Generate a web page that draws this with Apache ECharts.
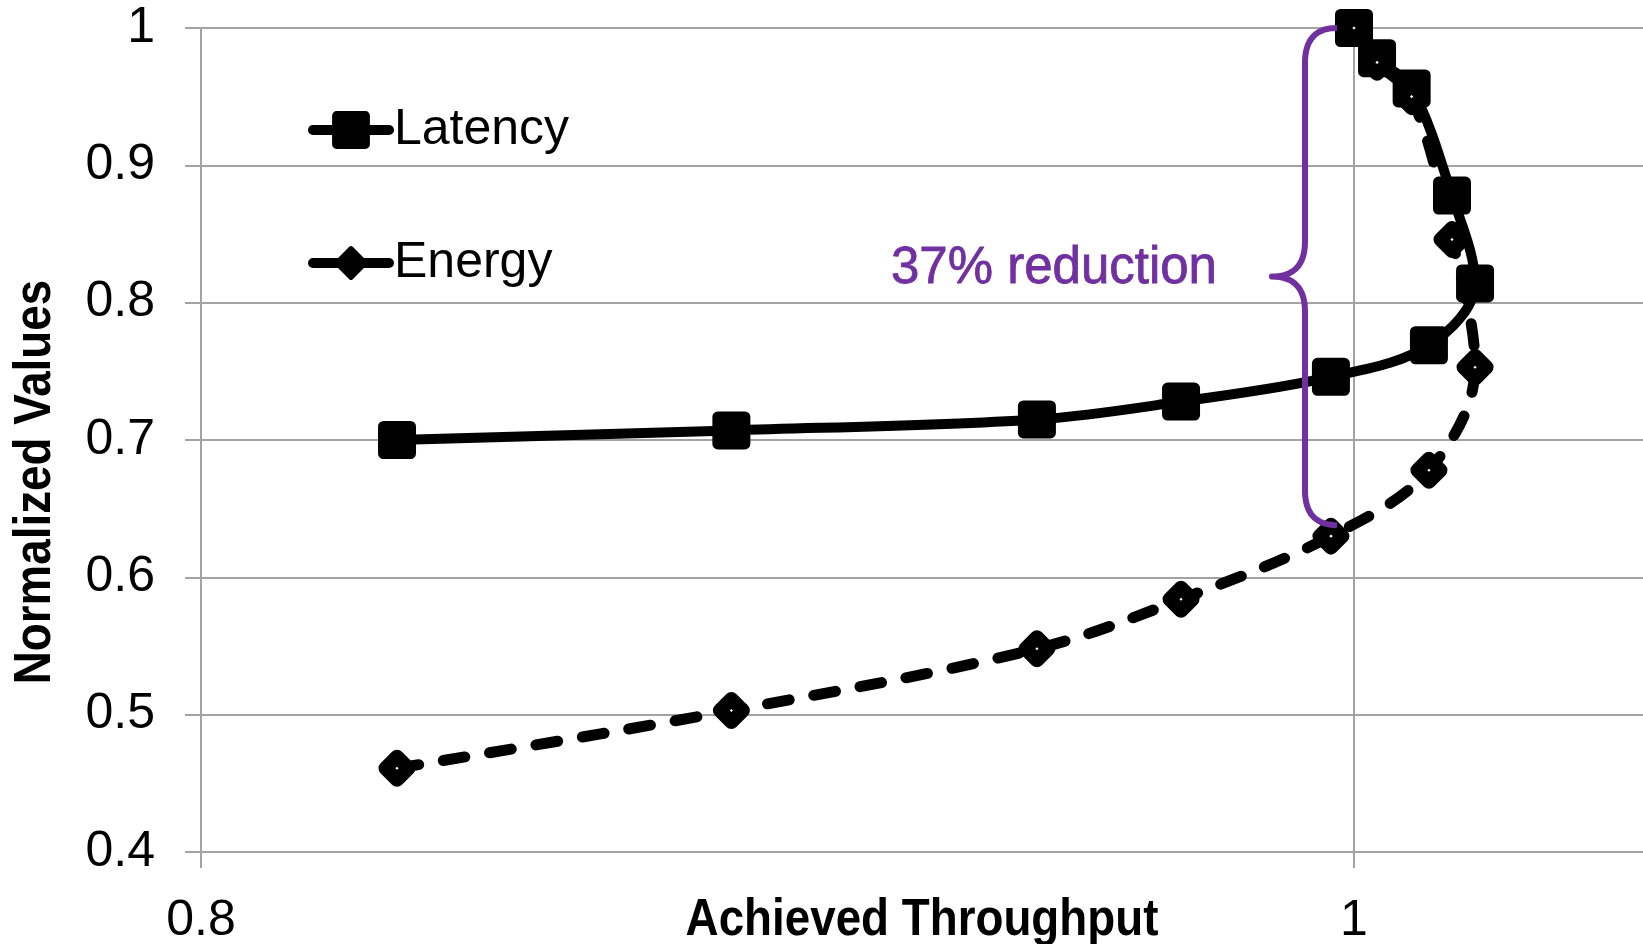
<!DOCTYPE html>
<html>
<head>
<meta charset="utf-8">
<title>Latency and Energy vs Achieved Throughput</title>
<script src="https://cdn.jsdelivr.net/npm/echarts@6/dist/echarts.min.js"></script>
<style>
  html, body { margin: 0; padding: 0; background: #ffffff; }
  #chart { width: 1643px; height: 944px; }
</style>
</head>
<body>
<div id="chart"></div>
<script>
// Operating points, ordered along the curve (shared throughput for both series)
const throughput = [0.834, 0.892, 0.945, 0.970, 0.996, 1.013, 1.021, 1.017, 1.010, 1.004, 1.000];
const latency    = [0.700, 0.707, 0.715, 0.728, 0.746, 0.769, 0.814, 0.878, 0.956, 0.978, 1.000];
const energy     = [0.461, 0.503, 0.548, 0.584, 0.630, 0.678, 0.753, 0.846, 0.950, 0.975, 1.000];

const seriesNames = ['Latency', 'Energy'];
const axisTitles = { x: 'Achieved Throughput', y: 'Normalized Values' };
const xRange = { min: 0.8, max: 1.051, interval: 0.2 };
const yRange = { min: 0.4, max: 1.0, interval: 0.1 };

// Annotation: energy at the knee point vs. peak-throughput point
const baseIdx = 10;   // throughput = 1 reference point
const kneeIdx = 4;    // energy-saving operating point
const reductionLabel = Math.round((latency[baseIdx] - energy[kneeIdx]) * 100) + '% reduction';

const GRID = '#a3a3a3';
const BODY_FONT = "'Liberation Sans', Arial, sans-serif";
const PURPLE = '#7030a0';

function pairs(xs, ys) { return xs.map((x, i) => [x, ys[i]]); }

const chart = echarts.init(document.getElementById('chart'), null, { renderer: 'canvas' });

const axisCommon = {
  type: 'value',
  axisLine: { show: true, onZero: false, lineStyle: { color: GRID, width: 2 } },
  axisTick: { show: true, inside: false, length: 16, lineStyle: { color: GRID, width: 2 } },
  splitLine: { show: true, lineStyle: { color: GRID, width: 2 } }
};

const option = {
  animation: false,
  backgroundColor: '#ffffff',
  grid: { left: 201, right: -5, top: 28, bottom: 92, containLabel: false, outerBoundsMode: 'none' },
  xAxis: Object.assign({}, axisCommon, {
    min: xRange.min, max: xRange.max, interval: xRange.interval,
    axisLabel: { fontFamily: BODY_FONT, fontSize: 50, color: '#000', margin: 44, showMaxLabel: false }
  }),
  yAxis: Object.assign({}, axisCommon, {
    min: yRange.min, max: yRange.max, interval: yRange.interval,
    axisLabel: { fontFamily: BODY_FONT, fontSize: 50, color: '#000', margin: 46 }
  }),
  legend: {
    orient: 'vertical',
    left: 308, top: 104, padding: 0,
    itemWidth: 76, itemHeight: 36, itemGap: 81,
    selectedMode: false,
    textStyle: { fontFamily: BODY_FONT, fontSize: 50, color: '#000', lineHeight: 52 },
    data: [
      { name: seriesNames[0], lineStyle: { type: 'solid', width: 10, color: '#000', cap: 'round' },
        itemStyle: { color: '#000', borderColor: '#000', borderWidth: 9, borderJoin: 'round' } },
      { name: seriesNames[1], lineStyle: { type: 'solid', width: 10, color: '#000', cap: 'round' },
        itemStyle: { color: '#000', borderColor: '#000', borderWidth: 5, borderJoin: 'round' } }
    ]
  },
  series: [
    {
      name: seriesNames[0], type: 'line', data: pairs(throughput, latency),
      smooth: 0.35, symbol: 'rect', symbolSize: 27, z: 2,
      lineStyle: { color: '#000', width: 10 },
      itemStyle: { color: '#000', borderColor: '#000', borderWidth: 11, borderJoin: 'round' },
      emphasis: { disabled: true }
    },
    {
      name: seriesNames[1], type: 'line', data: pairs(throughput, energy),
      smooth: 0.35, symbol: 'diamond', symbolSize: 23, z: 3,
      lineStyle: { color: '#000', width: 11, type: [22, 25], cap: 'round' },
      itemStyle: { color: '#fff', borderColor: '#000', borderWidth: 14, borderJoin: 'round' },
      emphasis: { disabled: true }
    }
  ]
};

chart.setOption(option);

// Curly brace spanning the peak point down to the energy knee point
function quadPoints(p0, c, p1, n) {
  const pts = [];
  for (let i = 1; i <= n; i++) {
    const t = i / n, u = 1 - t;
    pts.push([u * u * p0[0] + 2 * u * t * c[0] + t * t * p1[0],
              u * u * p0[1] + 2 * u * t * c[1] + t * t * p1[1]]);
  }
  return pts;
}

function drawOverlay() {
  const toPx = (x, y) => chart.convertToPixel({ gridIndex: 0 }, [x, y]);
  const top = toPx(throughput[baseIdx], latency[baseIdx]);
  const bot = toPx(throughput[kneeIdx], energy[kneeIdx]);
  const spineX = top[0] - 49;
  const endX = top[0] - 17;
  const yTop = top[1];
  const yBot = bot[1] - 11;
  const yMid = (yTop + yBot) / 2;
  const tipX = spineX - 33;
  const r = 35;

  let pts = [[endX, yTop]];
  pts = pts.concat(quadPoints([endX, yTop], [spineX, yTop], [spineX, yTop + r], 16));
  pts.push([spineX, yMid - r]);
  pts = pts.concat(quadPoints([spineX, yMid - r], [spineX, yMid], [tipX, yMid], 16));
  pts = pts.concat(quadPoints([tipX, yMid], [spineX, yMid], [spineX, yMid + r], 16));
  pts.push([spineX, yBot - r]);
  pts = pts.concat(quadPoints([spineX, yBot - r], [spineX, yBot], [endX, yBot], 16));

  // Axis titles in a condensed bold face, centred on the plot frame
  const frameLeft = toPx(xRange.min, yRange.min);
  const frameRightX = chart.getWidth();
  const frameTopY = toPx(xRange.min, yRange.max)[1];
  const xTitleX = (frameLeft[0] + frameRightX) / 2;
  const titleStyle = { fill: '#000', fontFamily: BODY_FONT, fontWeight: 'bold', fontSize: 52,
                       align: 'center', verticalAlign: 'middle' };

  chart.setOption({
    graphic: [
      {
        type: 'polyline', z: 10, silent: true,
        shape: { points: pts },
        style: { stroke: PURPLE, lineWidth: 6, fill: null, lineJoin: 'round', lineCap: 'butt' }
      },
      {
        type: 'text', z: 10, silent: true,
        x: tipX - 55, y: yMid - 8,
        style: {
          text: reductionLabel, fill: PURPLE, stroke: PURPLE, lineWidth: 0.8,
          fontFamily: BODY_FONT, fontSize: 51,
          align: 'right', verticalAlign: 'middle'
        }
      },
      {
        type: 'text', silent: true,
        x: xTitleX, y: frameLeft[1] + 69, scaleX: 0.88,
        style: Object.assign({ text: axisTitles.x }, titleStyle)
      },
      {
        type: 'text', silent: true,
        x: 36, y: (frameTopY + frameLeft[1]) / 2 + 42, scaleX: 0.88, rotation: Math.PI / 2,
        style: Object.assign({ text: axisTitles.y }, titleStyle)
      }
    ]
  });
}

drawOverlay();
</script>
</body>
</html>
